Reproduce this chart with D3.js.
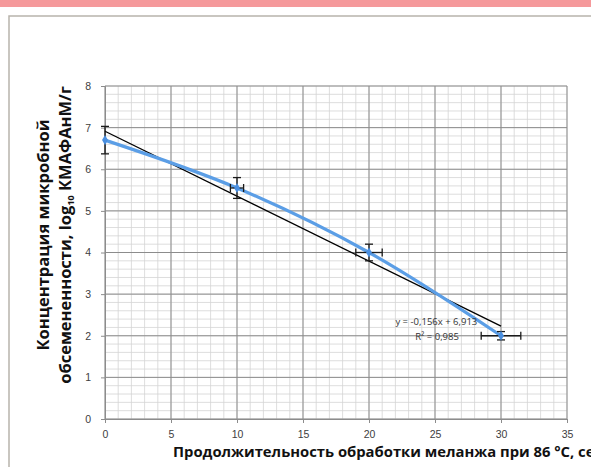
<!DOCTYPE html>
<html>
<head>
<meta charset="utf-8">
<script src="https://cdn.jsdelivr.net/npm/d3@7"></script>
<style>
  body { margin: 0; background: #fff; }
  svg { display: block; font-family: "Open Sans", "DejaVu Sans", sans-serif; }
</style>
</head>
<body>
<div id="chart"></div>
<script>
// points
const times = [0, 10, 20, 30]
const conc = [6.7, 5.55, 4.0, 2.0]
const yErr = [0.33, 0.25, 0.2, 0.1]
const xErr = [0, 0.5, 1.0, 1.5]
const xTicks = [0, 5, 10, 15, 20, 25, 30, 35]
const yTicks = [0, 1, 2, 3, 4, 5, 6, 7, 8]
const slope = -0.156, intercept = 6.913

const width = 591, height = 467
const margin = ({ top: 86, right: 24, bottom: 48, left: 105 })

let svg = d3.select("#chart").append("svg")
    .attr("width", width).attr("height", height)

// pink strip + chart frame
svg.append("rect").attr("x", 0).attr("y", 0).attr("width", width).attr("height", 7).attr("fill", "#f5999b")
svg.append("path").attr("d", `M9,${height} V16 H${width}`).attr("fill", "none").attr("stroke", "#b8b4ac").attr("stroke-width", 1.5)

let x = d3.scaleLinear().domain([0, 35]).range([margin.left, width - margin.right])
let y = d3.scaleLinear().domain([0, 8]).range([height - margin.bottom, margin.top])

// minor grid
let grid = svg.append("g")
grid.selectAll(".vmin").data(d3.range(0, 35.01, 1)).join("line")
    .attr("x1", d => x(d)).attr("x2", d => x(d)).attr("y1", y(0)).attr("y2", y(8))
    .attr("stroke", "#d4d4d4").attr("stroke-width", 0.8)
grid.selectAll(".hmin").data(d3.range(0, 8.01, 0.2)).join("line")
    .attr("y1", d => y(d)).attr("y2", d => y(d)).attr("x1", x(0)).attr("x2", x(35))
    .attr("stroke", "#d4d4d4").attr("stroke-width", 0.8)
// major grid
grid.selectAll(".vmaj").data(xTicks).join("line")
    .attr("x1", d => x(d)).attr("x2", d => x(d)).attr("y1", y(0)).attr("y2", y(8))
    .attr("stroke", "#8c8c8c").attr("stroke-width", 1)
grid.selectAll(".hmaj").data(yTicks).join("line")
    .attr("y1", d => y(d)).attr("y2", d => y(d)).attr("x1", x(0)).attr("x2", x(35))
    .attr("stroke", "#8c8c8c").attr("stroke-width", 1)

// axes
svg.append("g")
    .attr("transform", `translate(0,${y(0)})`)
    .call(d3.axisBottom(x).tickValues(xTicks).tickSize(4).tickPadding(8))
    .call(g => g.select(".domain").attr("stroke", "#8c8c8c"))
    .call(g => g.selectAll("line").attr("stroke", "#8c8c8c"))
    .call(g => g.selectAll("text").attr("fill", "#404040").style("font-size", "10.5px"))
svg.append("g")
    .attr("transform", `translate(${x(0)},0)`)
    .call(d3.axisLeft(y).tickValues(yTicks).tickSize(4).tickPadding(10))
    .call(g => g.select(".domain").attr("stroke", "#8c8c8c"))
    .call(g => g.selectAll("line").attr("stroke", "#8c8c8c"))
    .call(g => g.selectAll("text").attr("fill", "#404040").style("font-size", "10.5px"))

// linear trend
svg.append("line")
    .attr("x1", x(0)).attr("y1", y(intercept))
    .attr("x2", x(30)).attr("y2", y(slope * 30 + intercept))
    .attr("stroke", "#000").attr("stroke-width", 1.3)

// smooth data line
const pts = times.map((t, i) => [t, conc[i]])
svg.append("path")
    .datum(pts)
    .attr("fill", "none").attr("stroke", "#5b9ee6").attr("stroke-width", 3.2)
    .attr("d", d3.line().x(d => x(d[0])).y(d => y(d[1])).curve(d3.curveCatmullRom))

// error bars
let eb = svg.append("g").attr("stroke", "#1a1a1a").attr("stroke-width", 1.3)
pts.forEach((p, i) => {
    let cx = x(p[0]), cy = y(p[1])
    eb.append("line").attr("x1", cx).attr("x2", cx).attr("y1", y(p[1] + yErr[i])).attr("y2", y(p[1] - yErr[i]))
    eb.append("line").attr("x1", cx - 4).attr("x2", cx + 4).attr("y1", y(p[1] + yErr[i])).attr("y2", y(p[1] + yErr[i]))
    eb.append("line").attr("x1", cx - 4).attr("x2", cx + 4).attr("y1", y(p[1] - yErr[i])).attr("y2", y(p[1] - yErr[i]))
    if (xErr[i] > 0) {
        eb.append("line").attr("x1", x(p[0] - xErr[i])).attr("x2", x(p[0] + xErr[i])).attr("y1", cy).attr("y2", cy)
        eb.append("line").attr("x1", x(p[0] - xErr[i])).attr("x2", x(p[0] - xErr[i])).attr("y1", cy - 4).attr("y2", cy + 4)
        eb.append("line").attr("x1", x(p[0] + xErr[i])).attr("x2", x(p[0] + xErr[i])).attr("y1", cy - 4).attr("y2", cy + 4)
    }
})

// markers
svg.selectAll(".pt").data(pts).join("path")
    .attr("d", d3.symbol(d3.symbolDiamond, 30))
    .attr("transform", d => `translate(${x(d[0])},${y(d[1])})`)
    .attr("fill", "#4a8fe0")

// equation text
svg.append("text").attr("x", x(22)).attr("y", y(2.27)).attr("font-size", "9.5px").attr("fill", "#333")
    .text("y = -0,156x + 6,913")
svg.append("text").attr("x", x(23.5)).attr("y", y(1.9)).attr("font-size", "9.5px").attr("fill", "#333")
    .text("R² = 0,985")

// axis titles
svg.append("text").attr("x", 173).attr("y", 457)
    .style("font-size", "14.8px").style("font-weight", "bold").attr("fill", "#111")
    .text("Продолжительность обработки меланжа при 86 °C, сек")

let yt = svg.append("text")
    .attr("transform", "translate(0,235) rotate(-90)")
    .attr("text-anchor", "middle")
    .style("font-size", "16.5px").style("font-weight", "bold").attr("fill", "#111")
yt.append("tspan").attr("x", 0).attr("y", 49).text("Концентрация микробной")
yt.append("tspan").attr("x", 0).attr("y", 71).text("обсемененности, log")
    .append("tspan").attr("font-size", "9px").attr("dy", 3).text("10")
yt.append("tspan").attr("dy", -3).text(" КМАФАнМ/г")
</script>
</body>
</html>
